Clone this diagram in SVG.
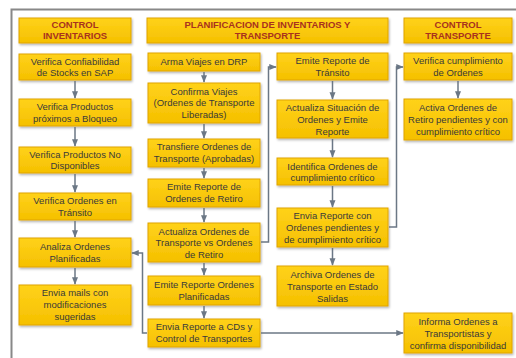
<svg xmlns="http://www.w3.org/2000/svg" width="516" height="358" viewBox="0 0 516 358">
<defs>
<linearGradient id="g" x1="0" y1="0" x2="0" y2="1">
<stop offset="0" stop-color="#ffd21a"/>
<stop offset="1" stop-color="#f5c000"/>
</linearGradient>
<filter id="sh" x="-10%" y="-10%" width="130%" height="140%">
<feDropShadow dx="1" dy="1.5" stdDeviation="0.8" flood-color="#000" flood-opacity="0.3"/>
</filter>
<marker id="ah" viewBox="0 0 10 10" refX="9" refY="5" markerWidth="5" markerHeight="5" orient="auto-start-reverse">
<path d="M0,1 L10,5 L0,9 z" fill="#6b7785"/>
</marker>
</defs>
<style>
.b{fill:url(#g);stroke:#e0a400;stroke-width:1;filter:url(#sh)}
.t{font-family:"Liberation Sans",Arial,sans-serif;font-size:9.5px;fill:#3a3a3a;text-anchor:middle}
.h{font-family:"Liberation Sans",Arial,sans-serif;font-size:9.5px;font-weight:bold;fill:#a8321e;text-anchor:middle}
.c{fill:none;stroke:#6b7785;stroke-width:1.5;marker-end:url(#ah)}
</style>
<rect width="516" height="358" fill="#fff"/>
<path d="M11.5,358 V9.5 H516" fill="none" stroke="#888" stroke-width="2"/>

<g id="hdr-inv"><rect class="b" x="19" y="18" width="112" height="25"/><text class="h" x="75" y="28">CONTROL</text><text class="h" x="75" y="39">INVENTARIOS</text></g>
<g id="inv1"><rect class="b" x="19" y="54" width="112" height="26"/><text class="t" x="75" y="65">Verifica Confiabilidad</text><text class="t" x="75" y="76">de Stocks en SAP</text></g>
<g id="inv2"><rect class="b" x="19" y="99" width="112" height="27"/><text class="t" x="75" y="110">Verifica Productos</text><text class="t" x="75" y="122">próximos a Bloqueo</text></g>
<g id="inv3"><rect class="b" x="19" y="147" width="112" height="26"/><text class="t" x="75" y="158">Verifica Productos No</text><text class="t" x="75" y="169">Disponibles</text></g>
<g id="inv4"><rect class="b" x="19" y="193" width="112" height="27"/><text class="t" x="75" y="204">Verifica Ordenes en</text><text class="t" x="75" y="216">Tránsito</text></g>
<g id="inv5"><rect class="b" x="19" y="238" width="112" height="29"/><text class="t" x="75" y="250">Analiza Ordenes</text><text class="t" x="75" y="262">Planificadas</text></g>
<g id="inv6"><rect class="b" x="19" y="285" width="112" height="40"/><text class="t" x="75" y="296">Envia mails con</text><text class="t" x="75" y="308">modificaciones</text><text class="t" x="75" y="320">sugeridas</text></g>

<g id="hdr-plan"><rect class="b" x="147" y="18" width="241" height="25"/><text class="h" x="267.5" y="28">PLANIFICACION DE INVENTARIOS Y</text><text class="h" x="267.5" y="39">TRANSPORTE</text></g>
<g id="p1"><rect class="b" x="148" y="53" width="112" height="18"/><text class="t" x="204" y="65">Arma Viajes en DRP</text></g>
<g id="p2"><rect class="b" x="148" y="83" width="112" height="40"/><text class="t" x="204" y="95">Confirma Viajes</text><text class="t" x="204" y="106">(Ordenes de Transporte</text><text class="t" x="204" y="118">Liberadas)</text></g>
<g id="p3"><rect class="b" x="148" y="139" width="112" height="28"/><text class="t" x="204" y="150">Transfiere Ordenes de</text><text class="t" x="204" y="162">Transporte (Aprobadas)</text></g>
<g id="p4"><rect class="b" x="148" y="179" width="112" height="28"/><text class="t" x="204" y="190">Emite Reporte de</text><text class="t" x="204" y="202">Ordenes de Retiro</text></g>
<g id="p5"><rect class="b" x="148" y="223" width="112" height="39"/><text class="t" x="204" y="235">Actualiza Ordenes de</text><text class="t" x="204" y="246">Transporte vs Ordenes</text><text class="t" x="204" y="258">de Retiro</text></g>
<g id="p6"><rect class="b" x="148" y="276" width="112" height="29"/><text class="t" x="204" y="288">Emite Reporte Ordenes</text><text class="t" x="204" y="300">Planificadas</text></g>
<g id="p7"><rect class="b" x="148" y="319" width="112" height="28"/><text class="t" x="204" y="330">Envia Reporte a CDs y</text><text class="t" x="204" y="342">Control de Transportes</text></g>

<g id="q1"><rect class="b" x="277" y="53" width="111" height="27"/><text class="t" x="332.5" y="64">Emite Reporte de</text><text class="t" x="332.5" y="76">Tránsito</text></g>
<g id="q2"><rect class="b" x="277" y="100" width="111" height="38"/><text class="t" x="332.5" y="111">Actualiza Situación de</text><text class="t" x="332.5" y="123">Ordenes y Emite</text><text class="t" x="332.5" y="135">Reporte</text></g>
<g id="q3"><rect class="b" x="277" y="158" width="111" height="27"/><text class="t" x="332.5" y="170">Identifica Ordenes de</text><text class="t" x="332.5" y="181">cumplimiento crítico</text></g>
<g id="q4"><rect class="b" x="277" y="208" width="111" height="39"/><text class="t" x="332.5" y="219">Envia Reporte con</text><text class="t" x="332.5" y="231">Ordenes pendientes y</text><text class="t" x="332.5" y="243">de cumplimiento crítico</text></g>
<g id="q5"><rect class="b" x="277" y="266" width="111" height="40"/><text class="t" x="332.5" y="278">Archiva Ordenes de</text><text class="t" x="332.5" y="290">Transporte en Estado</text><text class="t" x="332.5" y="302">Salidas</text></g>

<g id="hdr-tr"><rect class="b" x="404" y="18" width="108" height="25"/><text class="h" x="458" y="28">CONTROL</text><text class="h" x="458" y="39">TRANSPORTE</text></g>
<g id="t1"><rect class="b" x="404" y="53" width="108" height="27"/><text class="t" x="458" y="64">Verifica cumplimiento</text><text class="t" x="458" y="76">de Ordenes</text></g>
<g id="t2"><rect class="b" x="404" y="99" width="108" height="41"/><text class="t" x="458" y="111">Activa Ordenes de</text><text class="t" x="458" y="123">Retiro pendientes y con</text><text class="t" x="458" y="135">cumplimiento crítico</text></g>
<g id="t3"><rect class="b" x="404" y="313" width="108" height="40"/><text class="t" x="458" y="325">Informa Ordenes a</text><text class="t" x="458" y="337">Transportistas y</text><text class="t" x="458" y="349">confirma disponibilidad</text></g>

<g id="connectors">
<path class="c" d="M75,81 V98"/>
<path class="c" d="M75,127 V146"/>
<path class="c" d="M75,174 V192"/>
<path class="c" d="M75,221 V237"/>
<path class="c" d="M75,268 V284"/>
<path class="c" d="M204,72 V82"/>
<path class="c" d="M204,124 V138"/>
<path class="c" d="M204,168 V178"/>
<path class="c" d="M204,208 V222"/>
<path class="c" d="M204,263 V275"/>
<path class="c" d="M204,306 V318"/>
<path class="c" d="M332.5,81 V99"/>
<path class="c" d="M332.5,139 V157"/>
<path class="c" d="M332.5,186 V207"/>
<path class="c" d="M332.5,248 V265"/>
<path class="c" d="M458,81 V98"/>
<path class="c" d="M261,242 H268.5 V67 H276"/>
<path class="c" d="M389,227 H396.5 V67 H403"/>
<path class="c" d="M147,333 H142.5 V253 H132"/>
<path class="c" d="M261,333 H403"/>
</g>
</svg>
